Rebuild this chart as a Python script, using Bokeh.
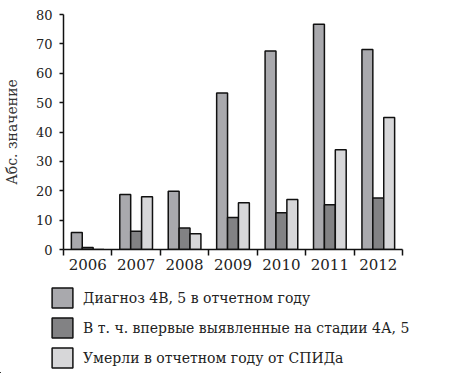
import numpy as np
from bokeh.plotting import figure
from bokeh.models import Range1d, FixedTicker, Legend, LegendItem, Label
from bokeh.embed import file_html
from bokeh.resources import INLINE

years = ["2006", "2007", "2008", "2009", "2010", "2011", "2012"]
diag = [5.8, 18.7, 19.8, 53.3, 67.6, 76.7, 68.1]
first = [0.7, 6.2, 7.3, 10.9, 12.5, 15.2, 17.5]
died = [0.0, 18.0, 5.4, 15.9, 17.0, 34.0, 44.9]
y_ticks = [0, 10, 20, 30, 40, 50, 60, 70, 80]
series_names = [
    "Диагноз 4В, 5 в отчетном году",
    "В т. ч. впервые выявленные на стадии 4А, 5",
    "Умерли в отчетном году от СПИДа",
]
colors = ["#a9a9ad", "#828284", "#d7d7d9"]

FONT = "DejaVu Serif"

p = figure(width=452, height=284, x_range=Range1d(-0.5, 6.5), y_range=Range1d(0, 80),
           output_backend="svg", toolbar_location=None, title=None,
           min_border_left=52, min_border_right=50, min_border_top=14, min_border_bottom=35)
p.outline_line_color = None
p.xgrid.visible = False
p.ygrid.visible = False

idx = np.arange(len(years))
bw = 0.225
offsets = [-bw, 0.0, bw]
series = [diag, first, died]
for off, vals, col in zip(offsets, series, colors):
    p.vbar(x=idx + off, top=vals, bottom=0, width=bw, fill_color=col,
           line_color="#111111", line_width=1.5)

# y axis
ya = p.yaxis[0]
ya.ticker = FixedTicker(ticks=y_ticks, minor_ticks=[])
ya.major_tick_out = 4
ya.major_tick_in = 0
ya.axis_line_width = 1.5
ya.major_tick_line_width = 1.5
ya.axis_line_color = "#111111"
ya.major_tick_line_color = "#111111"
ya.major_label_text_font = FONT
ya.major_label_text_font_size = "13px"
ya.major_label_text_color = "#222222"
ya.major_label_standoff = 7
ya.axis_label = "Абс. значение"
ya.axis_label_text_font = FONT
ya.axis_label_text_font_size = "14px"
ya.axis_label_text_font_style = "normal"
ya.axis_label_text_color = "#333333"
ya.axis_label_standoff = 13

# x axis
xa = p.xaxis[0]
xa.ticker = FixedTicker(ticks=list(idx), minor_ticks=list(np.arange(len(years) + 1) - 0.5))
xa.major_label_overrides = {int(i): y for i, y in zip(idx, years)}
xa.major_tick_out = 0
xa.major_tick_in = 0
xa.minor_tick_out = 6
xa.minor_tick_in = 0
xa.minor_tick_line_width = 1.5
xa.minor_tick_line_color = "#111111"
xa.axis_line_width = 1.5
xa.axis_line_color = "#111111"
xa.major_label_text_font = FONT
xa.major_label_text_font_size = "15px"
xa.major_label_text_color = "#222222"
xa.major_label_standoff = 3

p.add_layout(Label(x=6.5, y=-2.8, x_offset=7, text="Годы", text_baseline="middle",
                   text_font=FONT, text_font_size="13px", text_color="#222222"))

# legend figure (same bars, plotted outside its visible range, used only for the swatches)
p2 = figure(width=452, height=89, x_range=Range1d(1000, 1001), y_range=Range1d(1000, 1001),
            output_backend="svg", toolbar_location=None, title=None,
            x_axis_location=None, y_axis_location=None,
            min_border=0, min_border_left=0, min_border_right=0, min_border_top=0, min_border_bottom=0)
p2.outline_line_color = None
p2.xgrid.visible = False
p2.ygrid.visible = False
leg_renderers = []
for off, vals, col in zip(offsets, series, colors):
    leg_renderers.append(p2.vbar(x=idx + off, top=vals, bottom=0, width=bw, fill_color=col,
                                 line_color="#111111", line_width=1.5))

legend = Legend(items=[LegendItem(label=n, renderers=[r]) for n, r in zip(series_names, leg_renderers)],
                location=(49, 3), glyph_width=26, glyph_height=25, label_height=25,
                spacing=5, label_standoff=8, padding=0, margin=0,
                border_line_color=None, background_fill_alpha=0,
                label_text_font=FONT, label_text_font_size="14px", label_text_color="#222222")
p2.add_layout(legend)

open("out.html", "w").write(file_html([p, p2], INLINE))
